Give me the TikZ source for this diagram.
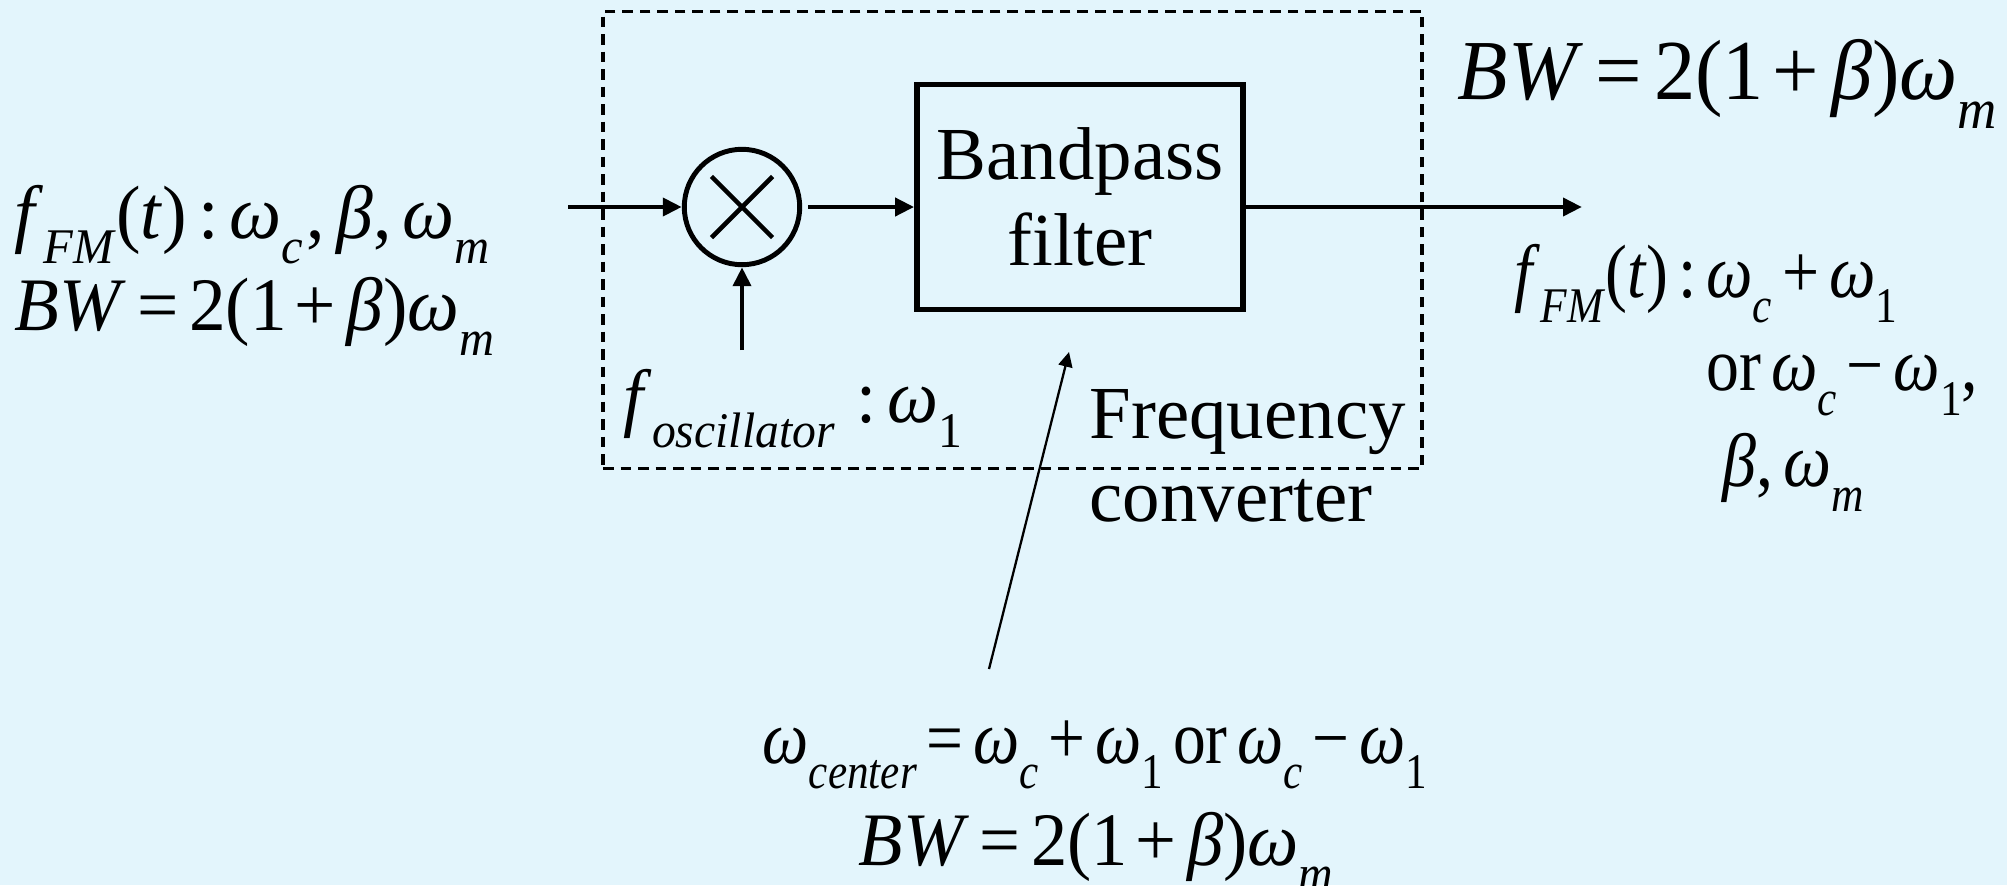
\documentclass[tikz,border=0pt]{standalone}
\usepackage{fontspec}
\setmainfont{Liberation Serif}
\usepackage{graphicx}
\usetikzlibrary{arrows.meta}
\definecolor{bgblue}{RGB}{227,245,252}
\newcommand\mi[1]{\textit{#1}}
\newcommand\lo[1]{\raisebox{-0.34em}{\scalebox{0.66}{\textit{#1}}}}
\newcommand\lon[1]{\raisebox{-0.34em}{\scalebox{0.66}{#1}}}
\newcommand\om{\textit{ω}}
\newcommand\bet{\textit{β}}
\newcommand\gp{\hspace{0.15em}}
\newcommand\sx[2]{\scalebox{#1}[1]{#2}}
\newcommand\bwexpr{\mi{BW}\gp=\gp2(1\hspace{0.1em}+\gp\bet)\om\lo{m}}
\begin{document}
\begin{tikzpicture}[x=1cm,y=1cm,
  txt/.style={inner sep=0pt, anchor=base west, font=\fontsize{21.3}{25}\selectfont},
  mtxt/.style={inner sep=0pt, anchor=base west, font=\fontsize{21.5}{25}\selectfont},
  bigtxt/.style={txt, font=\fontsize{24.3}{29}\selectfont},
  sig/.style={line width=1.4pt, -{Triangle[length=5.4pt,width=5pt]}},
  thinarr/.style={line width=0.65pt, -{Triangle[length=4.2pt,width=4pt]}},
  blockbox/.style={draw, line width=1.6pt, minimum width=3.26cm, minimum height=2.25cm, align=center, inner sep=0pt, font=\fontsize{21.3}{24.5}\selectfont},
  mixer/.style={circle, draw, line width=1.4pt, minimum size=1.154cm, inner sep=0pt},
  frame/.style={draw, line width=0.9pt, dash pattern=on 0.105cm off 0.07cm, minimum width=8.19cm, minimum height=4.57cm, inner sep=0pt}
]
\fill[bgblue] (0,0) rectangle (20.07,8.85);
\useasboundingbox (0,0) rectangle (20.07,8.85);

% frequency converter frame
\node[frame] (conv) at (10.125,6.45) {};

% blocks
\node[mixer] (mix) at (7.42,6.78) {};
\draw[line width=1.3pt, shorten <=0.17cm, shorten >=0.17cm] (mix.north west) -- (mix.south east);
\draw[line width=1.3pt, shorten <=0.17cm, shorten >=0.17cm] (mix.north east) -- (mix.south west);
\node[blockbox] (bpf) at (10.80,6.88) {Bandpass\\filter};

% coordinates
\coordinate (inL) at (5.68,6.78);
\coordinate (outR) at (15.82,6.78);
\coordinate (oscS) at (7.42,5.35);
\coordinate (ctrTail) at (9.89,2.16);
\coordinate (ctrTip) at (10.69,5.33);

% connectors
\draw[sig] (inL) -- (mix.west);
\draw[sig, shorten <=0.06cm] (mix.east) -- (bpf.west |- mix.east);
\draw[sig] (bpf.east |- mix.east) -- (outR);
\draw[sig] (oscS) -- (mix.south);
\draw[thinarr] (ctrTail) -- (ctrTip);

% labels
\node[mtxt] (inA) at (0.14,6.47) {\sx{0.975}{\mi{f}\lo{FM}(\mi{t})\gp:\gp\om\lo{c}\hspace{0.05em},\gp\bet,\gp\om\lo{m}}};
\node[mtxt] (inB) at (0.14,5.55) {\sx{0.97}{\bwexpr}};
\node[bigtxt] (bwTop) at (14.57,7.86) {\sx{0.965}{\bwexpr}};
\node[mtxt] (oscL) at (6.23,4.63) {\sx{0.955}{\mi{f}\lo{oscillator}\hspace{0.3em}:\gp\om\lon{1}}};
\node[txt] (fcA) at (10.89,4.47) {Frequency};
\node[txt] (fcB) at (10.89,3.64) {converter};
\node[mtxt] (outA) at (15.14,5.88) {\sx{0.87}{\mi{f}\lo{FM}(\mi{t})\gp:\gp\om\lo{c}\gp+\gp\om\lon{1}}};
\node[mtxt] (outB) at (17.06,4.95) {\sx{0.87}{or\gp\om\lo{c}\gp−\gp\om\lon{1},}};
\node[mtxt] (outC) at (17.22,3.99) {\sx{0.9}{\bet,\gp\om\lo{m}}};
\node[mtxt] (ctrA) at (7.62,1.22) {\sx{0.866}{\om\lo{center}\gp=\gp\om\lo{c}\gp+\gp\om\lon{1}\gp or\gp\om\lo{c}\gp−\gp\om\lon{1}}};
\node[mtxt] (ctrB) at (8.58,0.2) {\sx{0.96}{\bwexpr}};
\end{tikzpicture}
\end{document}
